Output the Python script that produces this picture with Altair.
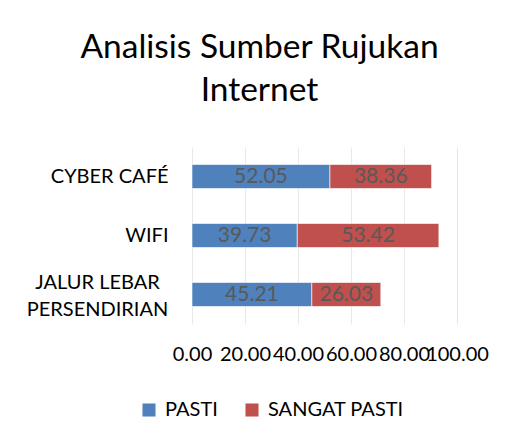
import altair as alt
import pandas as pd

categories = ["CYBER CAFÉ", "WIFI", "JALUR LEBAR|PERSENDIRIAN"]
series = ["PASTI", "SANGAT PASTI"]
pasti = [52.05, 39.73, 45.21]
sangat_pasti = [38.36, 53.42, 26.03]
colors = ["#4F81BD", "#C0504D"]
x_ticks = [0, 20, 40, 60, 80, 100]

rows = []
for i, c in enumerate(categories):
    rows.append({"cat": c, "series": series[0], "value": pasti[i], "ord": 0})
    rows.append({"cat": c, "series": series[1], "value": sangat_pasti[i], "ord": 1})
df = pd.DataFrame(rows)

FONT = "Lato"
MULTI = "indexof(datum.value, '|') >= 0"

base = alt.Chart(df).transform_stack(
    stack="value", groupby=["cat"], as_=["x0", "x1"], sort=[alt.SortField("ord")]
).transform_calculate(mid="(datum.x0 + datum.x1) / 2")

yenc = alt.Y(
    "cat:N",
    sort=categories,
    title=None,
    scale=alt.Scale(paddingInner=0.593, paddingOuter=0.2965),
    axis=alt.Axis(
        labelExpr="split(datum.value, '|')",
        labelFontSize=20,
        labelFont=FONT,
        labelColor="#000000",
        labelPadding={"condition": {"test": MULTI, "value": 95}, "value": 24},
        labelAlign={"condition": {"test": MULTI, "value": "center"}, "value": "right"},
        labelOffset={"condition": {"test": MULTI, "value": -12}, "value": 0},
        labelLineHeight=27,
        ticks=False,
        domain=False,
        labelLimit=300,
    ),
)

xscale = alt.Scale(domain=[0, 100], nice=False)

bars = base.mark_bar(stroke="#ffffff", strokeWidth=0.6).encode(
    x=alt.X(
        "x0:Q",
        scale=xscale,
        title=None,
        axis=alt.Axis(
            values=x_ticks,
            format=".2f",
            labelFontSize=20,
            labelFont=FONT,
            labelColor="#000000",
            labelOverlap=False,
            labelFlush=False,
            labelBound=False,
            labelPadding=20,
            ticks=False,
            domain=False,
            grid=True,
            gridColor="#E8E8E8",
            gridWidth=1,
        ),
    ),
    x2="x1:Q",
    y=yenc,
    color=alt.Color(
        "series:N",
        scale=alt.Scale(domain=series, range=colors),
        legend=alt.Legend(
            title=None,
            orient="none",
            direction="horizontal",
            legendX=-53,
            legendY=253,
            symbolType="square",
            symbolSize=170,
            symbolStrokeWidth=0,
            labelFontSize=20,
            labelFont=FONT,
            labelColor="#000000",
            labelOffset=6,
            columnPadding=24,
        ),
    ),
)

texts = base.mark_text(fontSize=21, font=FONT, color="#595959").encode(
    x=alt.X("mid:Q", scale=xscale),
    y=alt.Y("cat:N", sort=categories),
    text=alt.Text("value:Q", format=".2f"),
)

chart = (
    alt.layer(bars, texts)
    .properties(
        width=265,
        height=177,
        autosize=alt.AutoSizeParams(type="none"),
        padding={"left": 184, "top": 139, "right": 44, "bottom": 110},
        title=alt.TitleParams(
            text=["Analisis Sumber Rujukan", "Internet"],
            fontSize=33.5,
            font=FONT,
            fontWeight="normal",
            color="#000000",
            anchor="middle",
            dx=-65,
            offset=39,
            lineHeight=43,
        ),
    )
    .configure_view(stroke=None)
)

chart.save("out.html", embed_options={"renderer": "svg", "actions": False})
